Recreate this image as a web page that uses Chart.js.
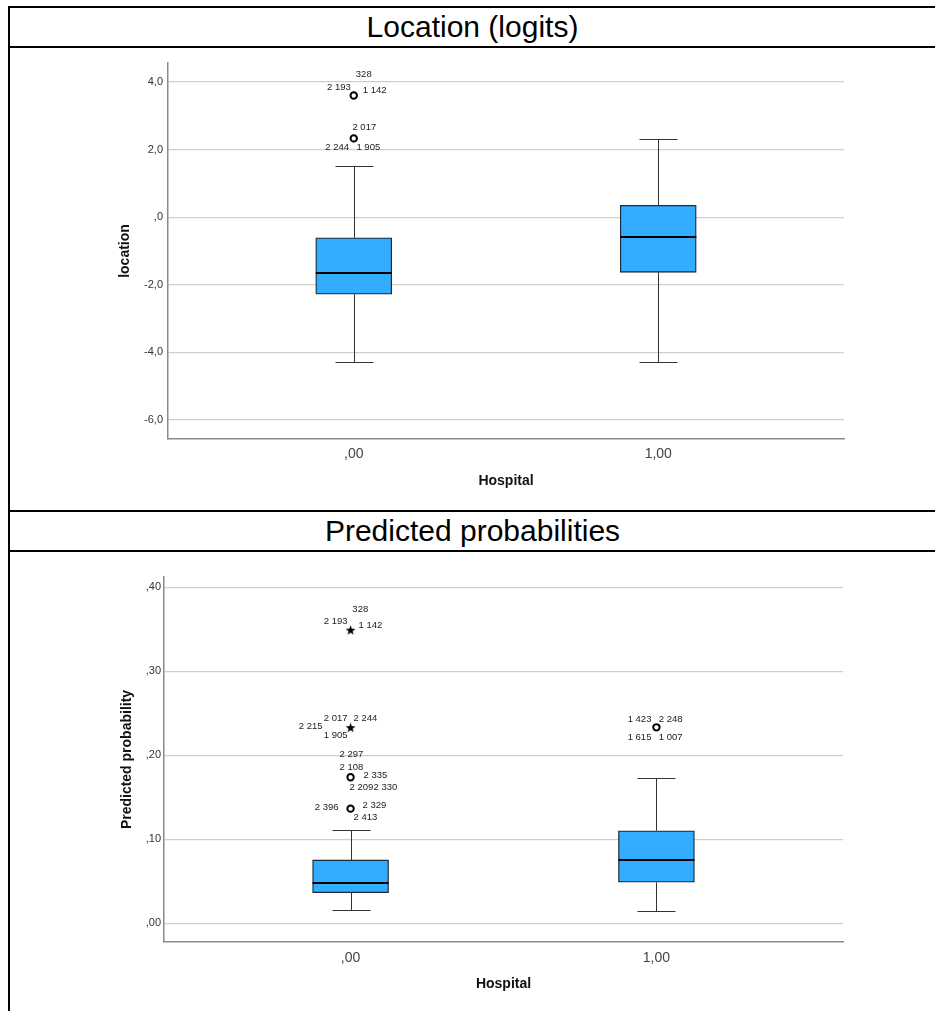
<!DOCTYPE html>
<html>
<head>
<meta charset="utf-8">
<script src="https://cdn.jsdelivr.net/npm/chart.js@4.4.0/dist/chart.umd.min.js"></script>
<style>
html,body{margin:0;padding:0;background:#fff;}
body{width:935px;height:1011px;position:relative;overflow:hidden;font-family:"Liberation Sans",Arial,sans-serif;}
.hl{position:absolute;left:8px;right:0;height:2px;background:#000;}
.vl{position:absolute;left:8px;width:2px;background:#000;}
.title{position:absolute;left:10px;right:0;text-align:center;font-size:30px;color:#000;height:40px;line-height:40px;}
canvas{position:absolute;}
</style>
</head>
<body>
<div class="vl" style="top:6px;height:1005px"></div>
<div class="hl" style="top:6px"></div>
<div class="title" style="top:7px">Location (logits)</div>
<div class="hl" style="top:46px"></div>
<div class="hl" style="top:510px"></div>
<div class="title" style="top:511px">Predicted probabilities</div>
<div class="hl" style="top:550px"></div>
<canvas id="c1" width="925" height="461" style="left:10px;top:49px"></canvas>
<canvas id="c2" width="925" height="457" style="left:10px;top:553px"></canvas>
<script>
// ---------------- DATA ----------------
const categories = [",00", "1,00"];
const categoryValues = [0, 1];
const xAxisTitle = "Hospital";

// Location (logits)
const locTitle = "location";
const locLowerWhisker = [-4.29, -4.29];
const locQ1 = [-2.28, -1.63];
const locMedian = [-1.64, -0.59];
const locQ3 = [-0.61, 0.35];
const locUpperWhisker = [1.50, 2.32];
const locOutlierValues = [[3.60, 2.33], []];
const locOutlierTypes = [["circle", "circle"], []];
const locOutlierIds = [[["328", "2 193", "1 142"], ["2 017", "2 244", "1 905"]], []];
const locTickValues = [-6, -4, -2, 0, 2, 4];
const locTickLabels = ["-6,0", "-4,0", "-2,0", ",0", "2,0", "4,0"];

// Predicted probabilities
const probTitle = "Predicted probability";
const probLowerWhisker = [0.0155, 0.0150];
const probQ1 = [0.0365, 0.0488];
const probMedian = [0.0484, 0.0750];
const probQ3 = [0.0754, 0.1102];
const probUpperWhisker = [0.1107, 0.1733];
const probOutlierValues = [[0.349, 0.2329, 0.1738, 0.1365], [0.2333]];
const probOutlierTypes = [["star", "star", "circle", "circle"], ["circle"]];
const probOutlierIds = [
  [["328", "2 193", "1 142"], ["2 017", "2 244", "2 215", "1 905"], ["2 297", "2 108", "2 335", "2 209", "2 330"], ["2 396", "2 329", "2 413"]],
  [["1 423", "2 248", "1 615", "1 007"]]
];
const probTickValues = [0, 0.1, 0.2, 0.3, 0.4];
const probTickLabels = [",00", ",10", ",20", ",30", ",40"];

// ---------------- LAYOUT (pixel offsets of ID labels, style only) ----------------
// [dx, dy, align] relative to the outlier marker
const locLabelLayout = [
  [[[10, -21, "center"], [-3, -8, "right"], [9, -4.6, "left"]],
   [[-1.3, -10.6, "left"], [-4.7, 9.4, "right"], [2.7, 9.4, "left"]]],
  []
];
const probLabelLayout = [
  [[[9.7, -20.7, "center"], [-3, -8.3, "right"], [8, -5, "left"]],
   [[-3, -9.4, "right"], [3, -9.4, "left"], [-28, -1, "right"], [-3, 8, "right"]],
   [[-11, -23.3, "left"], [-11, -10, "left"], [13, -2.3, "left"], [-1, 10, "left"], [23, 10, "left"]],
   [[-12, -1.4, "right"], [12, -3.7, "left"], [3, 9, "left"]]],
  [[[-5, -8, "right"], [2.3, -8, "left"], [-5, 10, "right"], [2.3, 10, "left"]]]
];

Chart.defaults.font.family = '"Liberation Sans", Arial, sans-serif';
Chart.defaults.animation = false;

function makeStar() {
  const c = document.createElement('canvas');
  c.width = 11; c.height = 11;
  const g = c.getContext('2d');
  g.fillStyle = '#000';
  g.beginPath();
  for (let i = 0; i < 10; i++) {
    const r = i % 2 === 0 ? 5.2 : 2.1;
    const a = -Math.PI / 2 + i * Math.PI / 5;
    const px = 5.5 + r * Math.cos(a), py = 5.8 + r * Math.sin(a);
    if (i === 0) g.moveTo(px, py); else g.lineTo(px, py);
  }
  g.closePath(); g.fill();
  return c;
}
const starImg = makeStar();

function buildChart(id, cfg) {
  const boxHalf = 38, capHalf = 19;
  const outlierPts = [];
  const outlierStyles = [];
  cfg.outVals.forEach((arr, i) => arr.forEach((v, j) => {
    outlierPts.push({x: categoryValues[i], y: v});
    outlierStyles.push(cfg.outTypes[i][j] === 'star' ? starImg : 'circle');
  }));
  const extras = {
    id: 'boxExtras',
    beforeDatasetsDraw(chart) {
      const {ctx, scales: {x, y}} = chart;
      ctx.save();
      ctx.strokeStyle = '#333';
      ctx.lineWidth = 1;
      categoryValues.forEach((cv, i) => {
        const px = Math.round(x.getPixelForValue(cv)) + 0.5;
        const hi = Math.round(y.getPixelForValue(cfg.hi[i])) + 0.5;
        const lo = Math.round(y.getPixelForValue(cfg.lo[i])) + 0.5;
        const q1 = y.getPixelForValue(cfg.q1[i]);
        const q3 = y.getPixelForValue(cfg.q3[i]);
        ctx.beginPath();
        ctx.moveTo(px, q3); ctx.lineTo(px, hi);
        ctx.moveTo(px, q1); ctx.lineTo(px, lo);
        ctx.moveTo(px - capHalf, hi); ctx.lineTo(px + capHalf, hi);
        ctx.moveTo(px - capHalf, lo); ctx.lineTo(px + capHalf, lo);
        ctx.stroke();
      });
      ctx.restore();
    },
    afterDatasetsDraw(chart) {
      const {ctx, scales: {x, y}} = chart;
      ctx.save();
      ctx.strokeStyle = '#000';
      ctx.lineWidth = 2;
      categoryValues.forEach((cv, i) => {
        const px = x.getPixelForValue(cv);
        const md = Math.round(y.getPixelForValue(cfg.med[i]));
        ctx.beginPath();
        ctx.moveTo(px - boxHalf, md); ctx.lineTo(px + boxHalf, md);
        ctx.stroke();
      });
      ctx.fillStyle = '#222';
      ctx.font = '9.5px "Liberation Sans", Arial, sans-serif';
      ctx.textBaseline = 'middle';
      cfg.outVals.forEach((arr, i) => arr.forEach((v, j) => {
        const px = x.getPixelForValue(categoryValues[i]);
        const py = y.getPixelForValue(v);
        cfg.ids[i][j].forEach((t, k) => {
          const L = cfg.layout[i][j][k];
          ctx.textAlign = L[2];
          ctx.fillText(t, px + L[0], py + L[1]);
        });
      }));
      ctx.restore();
    }
  };
  return new Chart(document.getElementById(id), {
    type: 'bar',
    data: {
      datasets: [
        {
          type: 'scatter',
          data: outlierPts,
          pointStyle: outlierStyles,
          radius: 3.2,
          borderWidth: 2,
          borderColor: '#000',
          backgroundColor: '#fff',
          order: 0
        },
        {
          type: 'bar',
          data: categoryValues.map((cv, i) => ({x: cv, y: [cfg.q1[i], cfg.q3[i]]})),
          backgroundColor: '#33adff',
          borderColor: '#1c2b3c',
          borderWidth: 1.3,
          borderSkipped: false,
          barThickness: 76,
          grouped: false,
          order: 1
        }
      ]
    },
    options: {
      responsive: false,
      animation: false,
      events: [],
      layout: {padding: cfg.padding},
      plugins: {legend: {display: false}, tooltip: {enabled: false}},
      scales: {
        x: {
          type: 'linear',
          min: -0.61, max: 1.61,
          offset: false,
          afterBuildTicks: s => { s.ticks = categoryValues.map(v => ({value: v})); },
          afterFit: s => { s.height = cfg.xHeight; },
          ticks: {
            callback: v => categories[categoryValues.indexOf(v)],
            font: {size: 14}, color: '#444', padding: cfg.xTickPad, maxRotation: 0, autoSkip: false
          },
          grid: {display: false, drawTicks: false},
          border: {display: true, color: '#8a8a8a', width: 1.5},
          title: {display: true, text: xAxisTitle, font: {size: 14, weight: 'bold'}, color: '#111',
                  padding: {top: 0, bottom: cfg.xTitlePad}}
        },
        y: {
          type: 'linear',
          min: cfg.yMin, max: cfg.yMax,
          afterBuildTicks: s => { s.ticks = cfg.tickVals.map(v => ({value: v})); },
          afterFit: s => { s.width = cfg.yWidth; },
          ticks: {
            callback: v => cfg.tickLabels[cfg.tickVals.indexOf(v)],
            font: {size: 11}, color: '#333', padding: cfg.yTickPad, autoSkip: false
          },
          grid: {color: '#cfcfcf', lineWidth: 1.2, drawTicks: false},
          border: {display: true, color: '#8a8a8a', width: 1.5},
          title: {display: true, text: cfg.yTitle, font: {size: 14, weight: 'bold'}, color: '#111',
                  padding: {top: cfg.yTitlePad, bottom: 0}}
        }
      }
    },
    plugins: [extras]
  });
}

buildChart('c1', {
  lo: locLowerWhisker, q1: locQ1, med: locMedian, q3: locQ3, hi: locUpperWhisker,
  outVals: locOutlierValues, outTypes: locOutlierTypes, ids: locOutlierIds, layout: locLabelLayout,
  tickVals: locTickValues, tickLabels: locTickLabels, yTitle: locTitle,
  yMin: -6.56, yMax: 4.56,
  padding: {left: 100, right: 91, top: 14, bottom: 0},
  yWidth: 58, xHeight: 71, yTickPad: 5, xTickPad: 7, xTitlePad: 20.6, yTitlePad: 6.6
});
buildChart('c2', {
  lo: probLowerWhisker, q1: probQ1, med: probMedian, q3: probQ3, hi: probUpperWhisker,
  outVals: probOutlierValues, outTypes: probOutlierTypes, ids: probOutlierIds, layout: probLabelLayout,
  tickVals: probTickValues, tickLabels: probTickLabels, yTitle: probTitle,
  yMin: -0.0223, yMax: 0.4123,
  padding: {left: 100, right: 92, top: 24, bottom: 0},
  yWidth: 54, xHeight: 68, yTickPad: 3, xTickPad: 8, xTitlePad: 17.6, yTitlePad: 8.6
});
</script>
</body>
</html>
